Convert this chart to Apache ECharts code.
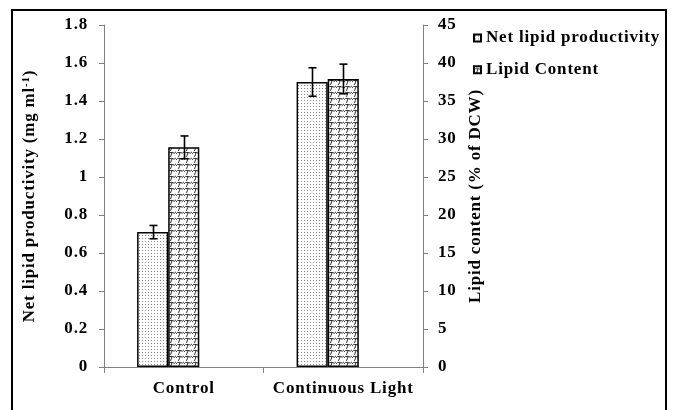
<!DOCTYPE html>
<html>
<head>
<meta charset="utf-8">
<script src="https://cdn.jsdelivr.net/npm/echarts@6/dist/echarts.min.js"></script>
<style>
html,body{margin:0;padding:0;background:#fff;}
#chart{width:680px;height:410px;}
</style>
</head>
<body>
<div id="chart"></div>
<script>
// ---- data ----
var categories = ['Control', 'Continuous Light'];
var productivity = [0.71, 1.50];
var productivityErr = [0.035, 0.075];
var lipidContent = [28.9, 37.9];
var lipidContentErr = [1.5, 1.95];
var seriesNames = ['Net lipid productivity', 'Lipid Content'];
var leftTicks = ['0', '0.2', '0.4', '0.6', '0.8', '1', '1.2', '1.4', '1.6', '1.8'];
var rightTicks = ['0', '5', '10', '15', '20', '25', '30', '35', '40', '45'];

// slightly wider letter spacing, like the reference's rendered Times Bold
(function () {
  var P = window.CanvasRenderingContext2D && CanvasRenderingContext2D.prototype;
  if (!P || !('letterSpacing' in P)) return;
  function wrap(fn) {
    return function () {
      var prev = this.letterSpacing;
      this.letterSpacing = '0.8px';
      var r = fn.apply(this, arguments);
      this.letterSpacing = prev;
      return r;
    };
  }
  P.measureText = wrap(P.measureText);
  P.fillText = wrap(P.fillText);
  P.strokeText = wrap(P.strokeText);
})();

// ---- patterns ----
function dotPattern() {
  var c = document.createElement('canvas');
  c.width = 3; c.height = 3;
  var g = c.getContext('2d');
  g.fillStyle = '#ffffff'; g.fillRect(0, 0, 3, 3);
  g.fillStyle = '#8c8c8c'; g.fillRect(1, 1, 1, 1);
  return c;
}
function wavePattern() {
  var w = 8, h = 6;
  var c = document.createElement('canvas');
  c.width = w; c.height = h;
  var g = c.getContext('2d');
  g.fillStyle = '#ffffff'; g.fillRect(0, 0, w, h);
  g.strokeStyle = '#1a1a1a'; g.lineWidth = 0.9;
  for (var k = -1; k <= 1; k++) {
    var oy = k * h;
    g.beginPath();
    g.moveTo(-1, oy + 5);
    g.quadraticCurveTo(1.5, oy + 1, 4, oy + 2.5);
    g.quadraticCurveTo(6.5, oy + 4.5, 9, oy + 1);
    g.stroke();
    g.beginPath();
    g.moveTo(4, oy + 2.5);
    g.lineTo(2.5, oy + 7);
    g.stroke();
  }
  return c;
}
var dotFill = {image: dotPattern(), repeat: 'repeat'};
var waveFill = {image: wavePattern(), repeat: 'repeat'};

var FONT = 'Liberation Serif';
var chart = echarts.init(document.getElementById('chart'), null, {renderer: 'canvas'});

function errRender(offsetFrac) {
  return function (params, api) {
    var xi = api.value(0), v = api.value(1), e = api.value(2);
    var band = api.size([1, 0])[0];
    var top = api.coord([xi, v + e]);
    var bot = api.coord([xi, v - e]);
    var x = Math.round(top[0] + offsetFrac * band) + 0.5;
    var cap = 4;
    var st = {stroke: '#000', lineWidth: 1.6};
    return {
      type: 'group',
      children: [
        {type: 'line', shape: {x1: x, y1: top[1], x2: x, y2: bot[1]}, style: st},
        {type: 'line', shape: {x1: x - cap, y1: top[1], x2: x + cap, y2: top[1]}, style: st},
        {type: 'line', shape: {x1: x - cap, y1: bot[1], x2: x + cap, y2: bot[1]}, style: st}
      ]
    };
  };
}

var axisLabelStyle = {fontFamily: FONT, fontWeight: 'bold', fontSize: 17, color: '#000'};

var option = {
  animation: false,
  backgroundColor: '#fff',
  grid: {left: 104, right: 257, top: 25, bottom: 43, containLabel: false},
  legend: {
    data: seriesNames,
    orient: 'vertical',
    left: 468,
    top: 24,
    itemWidth: 7,
    itemHeight: 7,
    itemGap: 14,
    icon: 'rect',
    textStyle: {fontFamily: FONT, fontWeight: 'bold', fontSize: 17, color: '#000'}
  },
  graphic: [{
    type: 'rect',
    shape: {x: 12, y: 10, width: 654, height: 420},
    style: {fill: null, stroke: '#000', lineWidth: 2},
    silent: true
  }],
  xAxis: {
    type: 'category',
    data: categories,
    boundaryGap: true,
    axisLine: {lineStyle: {color: '#808080', width: 1}},
    axisTick: {show: true, length: 6, lineStyle: {color: '#808080'}},
    axisLabel: Object.assign({margin: 13, interval: 0}, axisLabelStyle)
  },
  yAxis: [{
    type: 'value',
    min: 0, max: 1.8, interval: 0.2,
    position: 'left',
    name: '{a|Net lipid productivity (mg ml}{s|-1}{a|)}',
    nameLocation: 'middle',
    nameRotate: 90,
    nameGap: 64,
    nameTextStyle: {
      rich: {
        a: {fontFamily: FONT, fontWeight: 'bold', fontSize: 17, color: '#000'},
        s: {fontFamily: FONT, fontWeight: 'bold', fontSize: 11, color: '#000', verticalAlign: 'top', padding: [0, 0, 8, 0]}
      }
    },
    axisLine: {show: true, lineStyle: {color: '#808080', width: 1}},
    axisTick: {show: true, length: 5, lineStyle: {color: '#808080'}},
    splitLine: {show: false},
    axisLabel: Object.assign({margin: 16, formatter: function (v, i) { return leftTicks[i]; }}, axisLabelStyle)
  }, {
    type: 'value',
    min: 0, max: 45, interval: 5,
    position: 'right',
    name: 'Lipid content (% of DCW)',
    nameLocation: 'middle',
    nameRotate: 90,
    nameGap: 44,
    nameTextStyle: {fontFamily: FONT, fontWeight: 'bold', fontSize: 17, color: '#000'},
    axisLine: {show: true, lineStyle: {color: '#808080', width: 1}},
    axisTick: {show: true, length: 5, lineStyle: {color: '#808080'}},
    splitLine: {show: false},
    axisLabel: Object.assign({margin: 15, formatter: function (v, i) { return rightTicks[i]; }}, axisLabelStyle)
  }],
  series: [{
    name: seriesNames[0],
    type: 'bar',
    yAxisIndex: 0,
    data: productivity,
    barWidth: '19.5%',
    barGap: '0%',
    itemStyle: {color: dotFill, borderColor: '#000', borderWidth: 1.5}
  }, {
    name: seriesNames[1],
    type: 'bar',
    yAxisIndex: 1,
    data: lipidContent,
    barWidth: '19.5%',
    barGap: '0%',
    itemStyle: {color: waveFill, borderColor: '#000', borderWidth: 1.5}
  }, {
    name: 'spacer',
    type: 'bar',
    yAxisIndex: 0,
    data: categories.map(function () { return '-'; }),
    barWidth: '19.5%',
    barGap: '0%'
  }, {
    type: 'custom',
    yAxisIndex: 0,
    renderItem: errRender(-0.195),
    data: productivity.map(function (v, i) { return [i, v, productivityErr[i]]; }),
    z: 10
  }, {
    type: 'custom',
    yAxisIndex: 1,
    renderItem: errRender(0),
    data: lipidContent.map(function (v, i) { return [i, v, lipidContentErr[i]]; }),
    z: 10
  }]
};
chart.setOption(option);
</script>
</body>
</html>
